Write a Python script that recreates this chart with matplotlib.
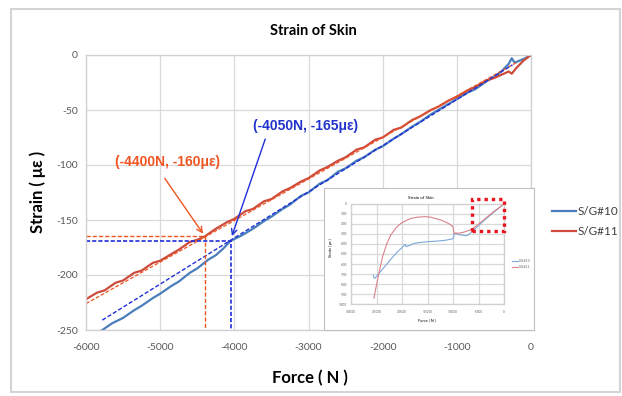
import matplotlib
matplotlib.use('Agg')
import matplotlib.pyplot as plt
from matplotlib.patches import Rectangle

plt.rcParams['axes.unicode_minus'] = False

# main chart: S/G#10 (blue) and S/G#11 (red), force [N] vs strain [micro-strain]
force_10 = [-5800, -5650, -5500, -5350, -5250, -5100, -5000, -4850, -4750, -4600, -4500, -4350, -4250, -4150, -4050,
	-3900, -3750, -3600, -3500, -3350, -3250, -3100, -3000, -2850, -2750, -2600, -2500, -2350, -2250, -2100, -2000,
	-1850, -1750, -1600, -1500, -1350, -1250, -1100, -1000, -850, -750, -600, -500, -400, -300, -260, -220, -150, -80, 0]
strain_10 = [-251, -244, -239, -232, -228, -221, -217, -210, -206, -198, -194, -186, -182, -176, -169,
	-164, -158, -151, -147, -140, -136, -128, -125, -117, -114, -106, -103, -96, -93, -86, -83,
	-76, -72, -65, -61, -54, -50, -44, -40, -34, -31, -24, -20, -15, -8, -3, -7, -5, -3, 0]

force_11 = [-6000, -5850, -5750, -5600, -5500, -5350, -5250, -5100, -5000, -4850, -4750, -4600, -4500, -4400, -4250,
	-4100, -4000, -3850, -3750, -3600, -3500, -3350, -3250, -3100, -3000, -2850, -2750, -2600, -2500, -2350, -2250,
	-2100, -2000, -1850, -1750, -1600, -1500, -1350, -1250, -1100, -1000, -850, -750, -600, -500, -400, -300, -260,
	-200, -100, 0]
strain_11 = [-222, -216, -214, -207, -205, -198, -196, -189, -187, -181, -177, -170, -168, -165, -158,
	-152, -149, -142, -140, -133, -131, -124, -121, -115, -112, -105, -102, -96, -93, -86, -84,
	-77, -75, -68, -66, -59, -56, -50, -47, -41, -38, -32, -29, -23, -21, -18, -15, -17,
	-12, -5, 0]

# linear fit lines (dashed)
fit_10_force = [-5780, -250]
fit_10_strain = [-241, -9]
fit_11_force = [-6000, -200]
fit_11_strain = [-226, -7]

# read-off points
pt_10 = (-4050, -169)
pt_11 = (-4400, -164.5)
label_10 = '(-4050N, -165με)'
label_11 = '(-4400N, -160με)'

# inset: whole test
inset_force_10 = [-25630, -25500, -25360, -25000, -24500, -23700, -22850, -21900, -20860, -20100, -19540, -19350,
	-19200, -18600, -17550, -16200, -14900, -13500, -12250, -11400, -10600, -10100, -9930, -9850, -9800, -9300,
	-8800, -8280, -7700, -7280, -6800, -6290, -4000, -2000, 0]
inset_strain_10 = [-710, -740, -743, -725, -693, -645, -593, -535, -477, -440, -410, -405,
	-427, -415, -393, -383, -377, -372, -367, -362, -353, -348, -343, -320, -293, -300,
	-305, -310, -316, -317, -300, -277, -169, -82, 0]
inset_force_11 = [-25500, -25200, -24800, -24300, -23800, -23000, -22200, -21200, -20200, -19200, -18200, -17000,
	-15600, -14500, -13600, -12500, -11600, -10700, -10000, -9900, -9800, -9300, -8900, -8200, -7600, -6300,
	-4000, -2000, 0]
inset_strain_11 = [-943, -860, -760, -640, -527, -400, -310, -240, -193, -165, -143, -132,
	-127, -130, -143, -158, -177, -200, -227, -260, -293, -290, -293, -285, -277, -253,
	-160, -75, 0]

x_ticks = [-6000, -5000, -4000, -3000, -2000, -1000, 0]
y_ticks = [0, -50, -100, -150, -200, -250]
inset_x_ticks = [-30000, -25000, -20000, -15000, -10000, -5000, 0]
inset_y_ticks = [0, -100, -200, -300, -400, -500, -600, -700, -800, -900, -1000]

BLUE = '#4A7EBB'
RED = '#CD4B3C'
FIT_BLUE = '#1F2FD6'
FIT_RED = '#EE5522'
GRID = '#D9D9D9'
TICK = '#595959'
LABEL_FONT = ['Lato', 'DejaVu Sans']
ARIAL = ['Liberation Sans', 'DejaVu Sans']

W, H = 622, 396

def fx(px):
	return px / W

def fy(py):
	return 1 - py / H

def box(x0, y0, x1, y1):
	return [fx(x0), fy(y1), (x1 - x0) / W, (y1 - y0) / H]

def style_axes(ax, labelsize, pad_x, pad_y):
	ax.grid(True, color=GRID, linewidth=0.9)
	ax.set_axisbelow(True)
	for s in ax.spines.values():
		s.set_color('#CFCFCF')
		s.set_linewidth(0.9)
	ax.tick_params(axis='both', length=0, colors=TICK, labelsize=labelsize)
	ax.tick_params(axis='x', pad=pad_x)
	ax.tick_params(axis='y', pad=pad_y)
	for t in ax.get_xticklabels() + ax.get_yticklabels():
		t.set_family(LABEL_FONT)

fig = plt.figure(figsize=(W / 100, H / 100), dpi=100)
fig.patches.append(Rectangle((fx(11), fy(392)), 609 / W, 383 / H, transform=fig.transFigure,
	facecolor='white', edgecolor='#D4D4D4', linewidth=1.5, zorder=-1))

ax = fig.add_axes(box(86, 55, 531, 330))
ax.plot(force_10, strain_10, color=BLUE, linewidth=1.6, label='S/G#10')
ax.plot(force_11, strain_11, color=RED, linewidth=1.6, label='S/G#11')
ax.plot(fit_11_force, fit_11_strain, color=FIT_RED, linewidth=0.9, linestyle=(0, (3, 1.5)))
ax.plot(fit_10_force, fit_10_strain, color=FIT_BLUE, linewidth=1.0, linestyle=(0, (3, 1.5)))

# guide lines down to the axes
ax.plot([-6000, pt_11[0], pt_11[0]], [pt_11[1], pt_11[1], -250], color=FIT_RED, linewidth=1.0, linestyle=(0, (3, 1.5)))
ax.plot([-6000, pt_10[0], pt_10[0]], [pt_10[1], pt_10[1], -250], color=FIT_BLUE, linewidth=1.2, linestyle=(0, (2.5, 1.2)))

ax.annotate('', xy=pt_11, xytext=(-4960, -110), arrowprops=dict(arrowstyle='->', color=FIT_RED, lw=1.0))
ax.annotate('', xy=(-4045, -167), xytext=(-3571, -74), arrowprops=dict(arrowstyle='->', color=FIT_BLUE, lw=1.0))
ax.text(-4906, -97, label_11, color=FIT_RED, fontsize=10, fontweight='bold', family=ARIAL, ha='center', va='center')
ax.text(-3046, -64.5, label_10, color='#2233CC', fontsize=10, fontweight='bold', family=ARIAL, ha='center', va='center')

ax.set_xlim(-6000, 0)
ax.set_ylim(-250, 0)
ax.set_xticks(x_ticks)
ax.set_yticks(y_ticks)
style_axes(ax, 7.5, 9, 6)

leg = ax.legend(loc='upper left', bbox_to_anchor=(fx(546), fy(200)), bbox_transform=fig.transFigure,
	frameon=False, fontsize=8.5, handlelength=2.0, handletextpad=0.15, labelspacing=0.75, borderpad=0)
for t in leg.get_texts():
	t.set_family(LABEL_FONT)
	t.set_color('#404040')

fig.text(fx(313), fy(31), 'Strain of Skin', ha='center', va='center', fontsize=10.5, fontweight='bold', family=LABEL_FONT)
fig.text(fx(38), fy(192), 'Strain ( με )', ha='center', va='center', rotation=90, fontsize=12, fontweight='bold', family=LABEL_FONT)
fig.text(fx(310), fy(378), 'Force ( N )', ha='center', va='center', fontsize=12, fontweight='bold', family=LABEL_FONT)

# inset picture of the whole test
frame = fig.add_axes(box(324, 188, 534, 330))
frame.set_xticks([])
frame.set_yticks([])
for s in frame.spines.values():
	s.set_color('#BFBFBF')
	s.set_linewidth(0.8)
frame.text(0.46, 0.93, 'Strain of Skin', transform=frame.transAxes, ha='center', va='center', fontsize=3.2, family=LABEL_FONT)
frame.text(0.035, 0.58, 'Strain ( με )', transform=frame.transAxes, ha='center', va='center', rotation=90, fontsize=2.8, family=LABEL_FONT)
frame.text(0.49, 0.065, 'Force ( N )', transform=frame.transAxes, ha='center', va='center', fontsize=2.8, family=LABEL_FONT)

inset = fig.add_axes(box(351, 204, 504, 304))
inset.plot(inset_force_10, inset_strain_10, color='#7DA7D8', linewidth=0.8, label='S/G#10')
inset.plot(inset_force_11, inset_strain_11, color='#D9838A', linewidth=0.8, label='S/G#11')
inset.add_patch(Rectangle((-6300, -270), 6300, 320, fill=False, edgecolor='#E8141E', linewidth=2.4,
	linestyle=(0, (1, 1.2)), clip_on=False, zorder=5))
inset.set_xlim(-30000, 0)
inset.set_ylim(-1000, 0)
inset.set_xticks(inset_x_ticks)
inset.set_yticks(inset_y_ticks)
style_axes(inset, 2.2, 4, 3)
ileg = inset.legend(loc='center left', bbox_to_anchor=(fx(510), fy(264)), bbox_transform=fig.transFigure,
	frameon=False, fontsize=2.2, handlelength=2.0, handletextpad=0.3, labelspacing=0.6, borderpad=0)
for t in ileg.get_texts():
	t.set_color(TICK)

fig.savefig('out.png', dpi=100)
